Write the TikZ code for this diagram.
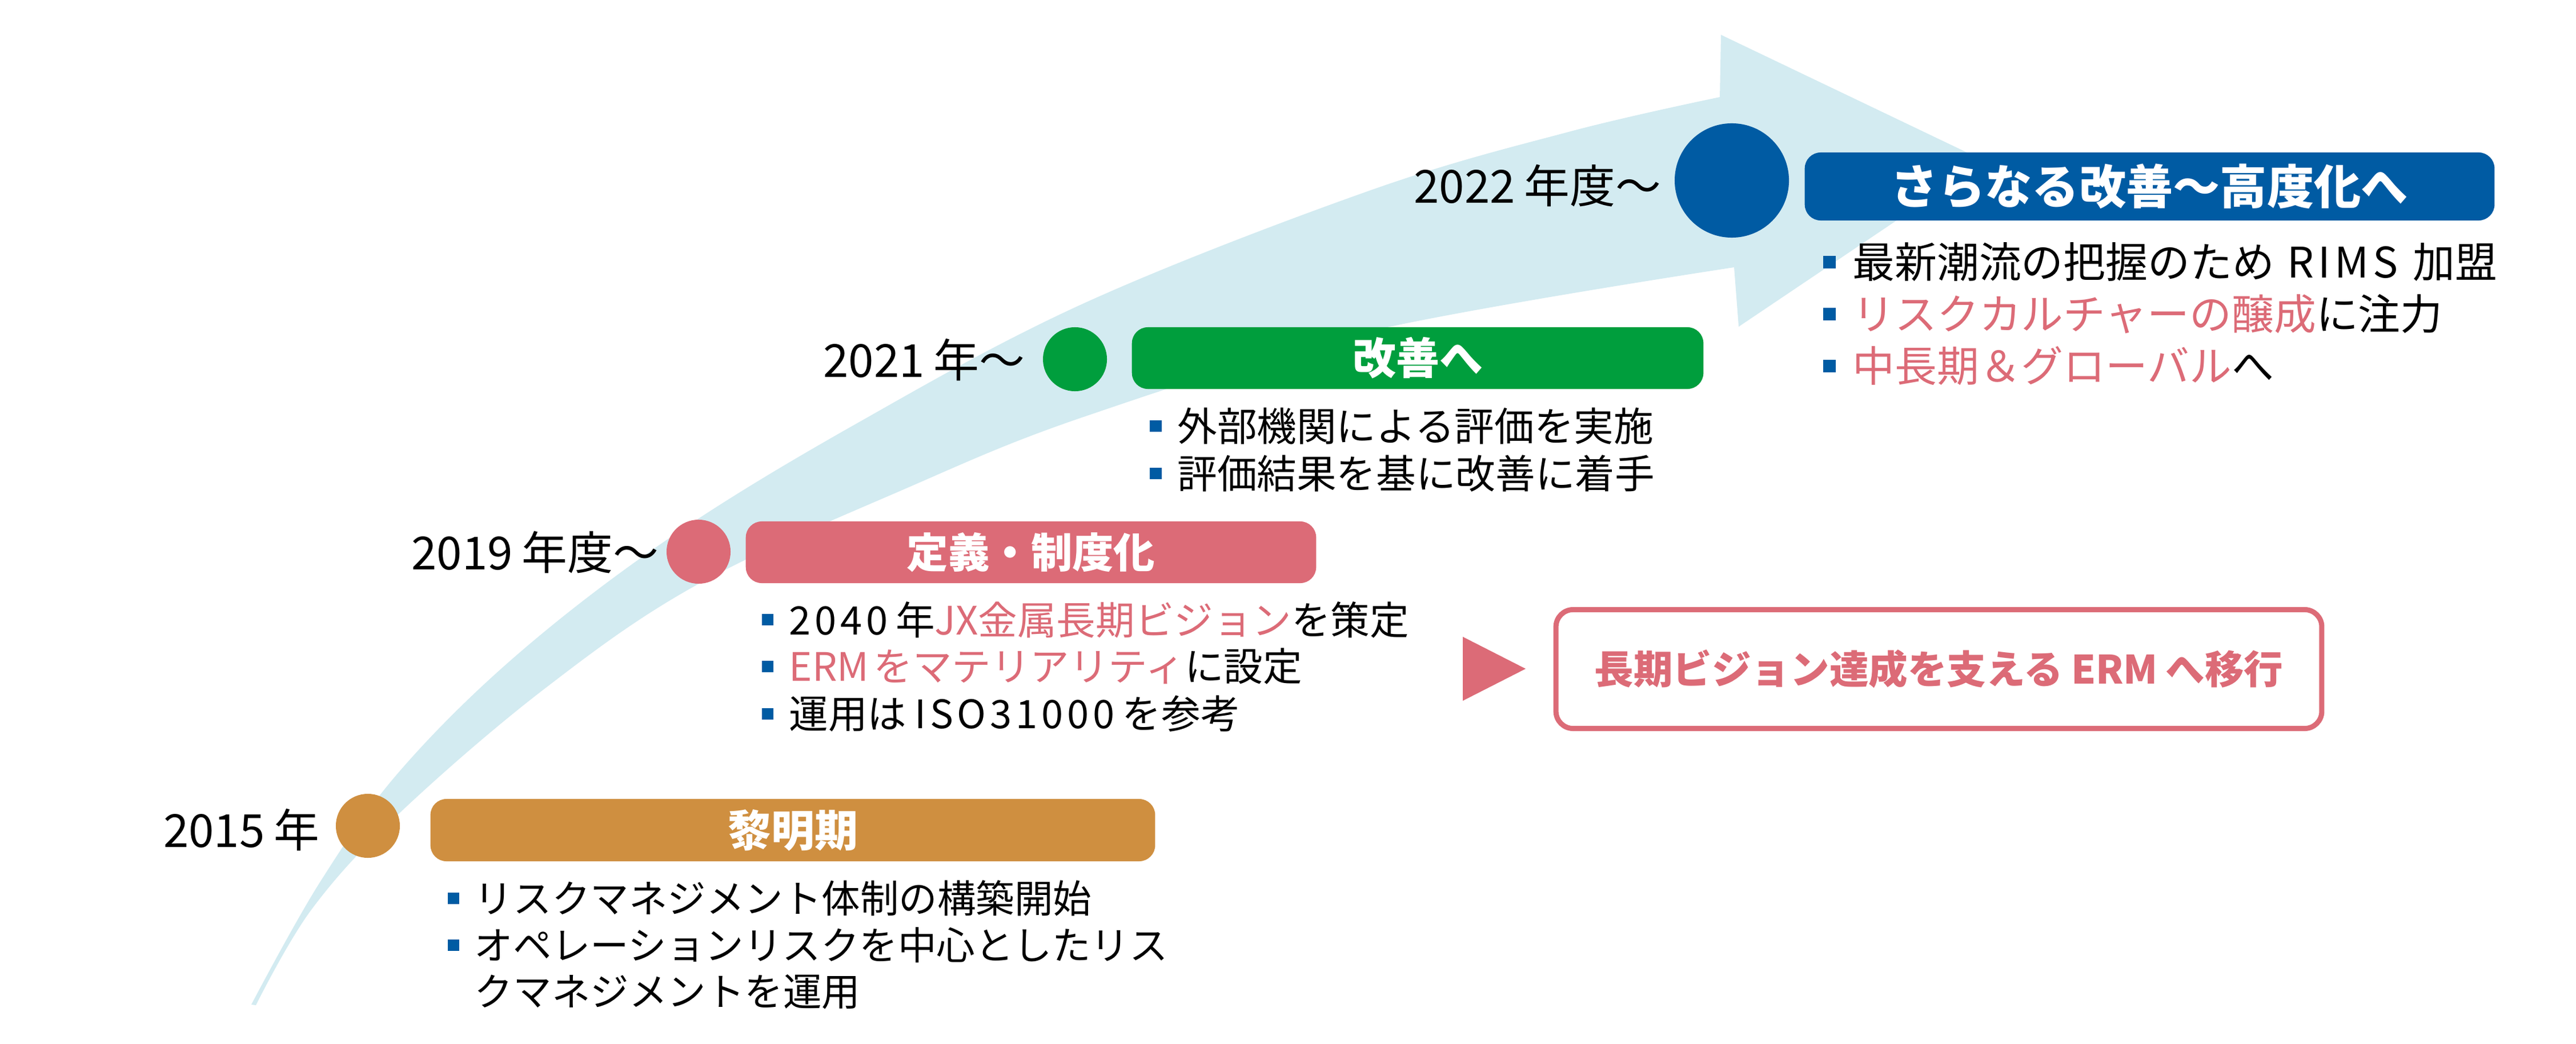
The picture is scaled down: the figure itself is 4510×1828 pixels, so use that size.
\documentclass[tikz,border=0pt]{standalone}
\usepackage{fontspec}
\setmainfont{Noto Sans CJK JP}
\definecolor{band}{RGB}{211,235,241}
\definecolor{jorange}{RGB}{207,143,64}
\definecolor{jpink}{RGB}{220,107,119}
\definecolor{jgreen}{RGB}{0,158,61}
\definecolor{jblue}{RGB}{0,91,163}
\newcommand\bul{\textcolor{jblue}{\rule[0.23em]{0.3em}{0.3em}}\hspace{0.4em}}
\newcommand\pk[1]{\textcolor{jpink}{#1}}
\newcommand\lgap{\hspace{0.2em}}
\newcommand\wide[1]{{\addfontfeatures{LetterSpace=10}#1}}
\tikzset{
  dot/.style={circle, inner sep=0pt, minimum size=1.12cm},
  titlebox/.style={rounded corners=0.28cm, inner sep=0pt, text=white},
  yearlbl/.style={anchor=base east, inner sep=0pt, font=\fontsize{22.7pt}{27pt}\selectfont},
  item/.style={anchor=west, inner sep=0pt},
}
\begin{document}
\begin{tikzpicture}[x=0.01cm,y=-0.01cm]
\useasboundingbox (0,0) rectangle (4510,1828);
\fill[white] (0,0) rectangle (4510,1828);
% big curved arrow
\fill[band] plot[smooth, tension=0.6] coordinates {(440,1759) (560,1545) (700,1350) (907,1145) (1175,940) (1499,742) (1900,530) (2400,333) (2750,230) (3011,170)}
  -- (3013,61) -- (3475,282) -- (3044,572) -- (3036,468)
  -- plot[smooth, tension=0.6] coordinates {(3036,468) (2397,580) (1900,729) (1582,857) (1220,1024) (952,1207) (697,1426) (545,1593) (448,1760)} -- cycle;
% dots
\node[dot, fill=jorange] (c2015) at (644,1446) {};
\node[dot, fill=jpink] (c2019) at (1223,966) {};
\node[dot, fill=jgreen] (c2021) at (1882,629) {};
\node[dot, fill=jblue, minimum size=2.0cm] (c2022) at (3032,316) {};
% title boxes
\node[titlebox, fill=jorange, minimum width=12.68cm, minimum height=1.09cm, font=\bfseries\fontsize{21.6pt}{26pt}\selectfont] (b2015) at (1388,1453.5) {黎明期};
\node[titlebox, fill=jpink, minimum width=9.98cm, minimum height=1.08cm, font=\bfseries\fontsize{20.6pt}{25pt}\selectfont] (b2019) at (1805,967) {定義・制度化};
\node[titlebox, fill=jgreen, minimum width=10.0cm, minimum height=1.08cm, font=\bfseries\fontsize{21.6pt}{26pt}\selectfont] (b2021) at (2482,627) {改善へ};
\node[titlebox, fill=jblue, minimum width=12.07cm, minimum height=1.19cm, font=\bfseries\fontsize{23.4pt}{28pt}\selectfont] (b2022) at (3763.5,326.5) {さらなる改善～高度化へ};
% year labels
\node[yearlbl] (y2015) at (560,1483) {2015\lgap 年};
\node[yearlbl] (y2019) at (1154,997) {2019\lgap 年度～};
\node[yearlbl] (y2021) at (1795,660) {2021\lgap 年～};
\node[yearlbl] (y2022) at (2909,356) {2022\lgap 年度～};
% items 2015
\begin{scope}[every node/.append style={font=\fontsize{19.2pt}{23pt}\selectfont}]
\node[item] (i15a) at (783,1573) {\bul リスクマネジメント体制の構築開始};
\node[item] (i15b) at (783,1655) {\bul オペレーションリスクを中心としたリス};
\node[item] (i15c) at (783,1737) {\phantom{\bul}クマネジメントを運用};
\end{scope}
% items 2019
\begin{scope}[every node/.append style={font=\fontsize{19.5pt}{23pt}\selectfont}]
\node[item] (i19a) at (1333,1085) {\bul \wide{2040}\lgap 年\pk{JX金属長期ビジョン}を策定};
\node[item] (i19b) at (1333,1167) {\bul \pk{ERM\hspace{0.12em}をマテリアリティ}に設定};
\node[item] (i19c) at (1333,1250) {\bul 運用は\lgap \wide{ISO31000}\lgap を参考};
\end{scope}
% items 2021
\begin{scope}[every node/.append style={font=\fontsize{19.8pt}{23pt}\selectfont}]
\node[item] (i21a) at (2012,746) {\bul 外部機関による評価を実施};
\node[item] (i21b) at (2012,829) {\bul 評価結果を基に改善に着手};
\end{scope}
% items 2022
\begin{scope}[every node/.append style={font=\fontsize{21pt}{25pt}\selectfont}]
\node[item] (i22a) at (3191,459) {\bul 最新潮流の把握のため\hspace{0.3em}\wide{RIMS}\hspace{0.35em}加盟};
\node[item] (i22b) at (3191,550) {\bul \pk{リスクカルチャーの醸成}に注力};
\node[item] (i22c) at (3191,641) {\bul \pk{中長期＆グローバル}へ};
\end{scope}
% goal
\fill[jpink] (2561,1115) -- (2671,1171) -- (2561,1227) -- cycle;
\node[draw=jpink, line width=0.09cm, rounded corners=0.3cm, minimum width=13.40cm, minimum height=2.08cm, inner sep=0pt, text=jpink, font=\bfseries\fontsize{19.5pt}{24pt}\selectfont] (goal) at (3394.5,1171.5) {長期ビジョン達成を支える\lgap ERM\lgap へ移行};
\end{tikzpicture}
\end{document}
